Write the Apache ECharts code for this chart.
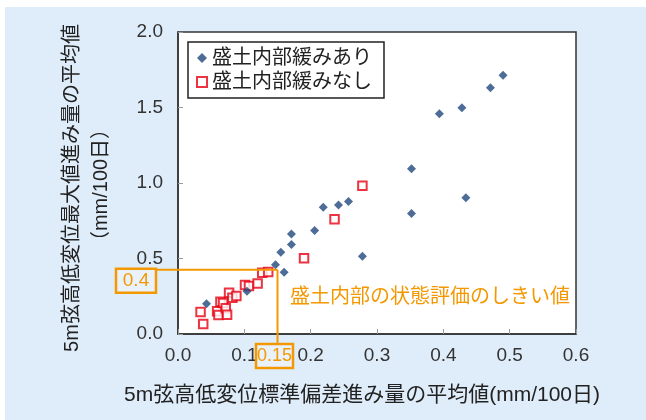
<!DOCTYPE html>
<html><head><meta charset="utf-8">
<script src="https://cdn.jsdelivr.net/npm/echarts@6/dist/echarts.min.js"></script>
<style>
html,body{margin:0;padding:0;background:#fff;}
#c{width:646px;height:420px;
background: linear-gradient(#fff,#fff) top left/100% 7px no-repeat, linear-gradient(#fff,#fff) top left/5px 100% no-repeat, #dfecf9;}
</style></head>
<body><div id="c"></div>
<script>
// ---- data ----
const seriesNames = ['盛土内部緩みあり', '盛土内部緩みなし'];
const looseX = [0.043,0.104,0.147,0.155,0.160,0.171,0.171,0.206,0.219,0.242,0.257,0.278,0.352,0.352,0.394,0.428,0.434,0.471,0.490];
const looseY = [0.200,0.283,0.458,0.541,0.409,0.592,0.663,0.685,0.840,0.855,0.877,0.515,1.094,0.798,1.459,1.498,0.902,1.631,1.713];
const tightX = [0.034,0.038,0.059,0.061,0.064,0.068,0.072,0.074,0.077,0.082,0.088,0.101,0.107,0.120,0.127,0.136,0.190,0.236,0.278];
const tightY = [0.146,0.066,0.150,0.126,0.214,0.205,0.170,0.128,0.274,0.240,0.252,0.325,0.318,0.335,0.405,0.410,0.502,0.760,0.981];
const threshX = 0.15, threshY = 0.425;
const threshXLabel = '0.15', threshYLabel = '0.4';
const noteText = '盛土内部の状態評価のしきい値';
const xName = '5m弦高低変位標準偏差進み量の平均値(mm/100日)';
const yName1 = '5m弦高低変位最大値進み量の平均値';
const yName2 = '（mm/100日）';

const FF = '"Liberation Sans", Arial, "Noto Sans CJK JP", sans-serif';
const ORANGE = '#f39800';
const zip = (a,b) => a.map((v,i)=>[v,b[i]]);

const chart = echarts.init(document.getElementById('c'), null, {renderer:'canvas'});
const option = {
  animation:false,
  textStyle:{fontFamily:FF},
  grid:{left:178, top:32, width:398, height:302, show:true, backgroundColor:'#fff', borderColor:'#333', borderWidth:1.5},
  xAxis:{type:'value', min:0, max:0.6, interval:0.1,
    axisLine:{lineStyle:{color:'#333', width:1.5}},
    axisTick:{inside:true, length:5, lineStyle:{color:'#999'}},
    splitLine:{show:false},
    axisLabel:{formatter:v=>v.toFixed(1), fontSize:19, color:'#333', margin:12, fontFamily:FF}},
  yAxis:{type:'value', min:0, max:2, interval:0.5,
    axisLine:{lineStyle:{color:'#333', width:1.5}},
    axisTick:{inside:true, length:5, lineStyle:{color:'#999'}},
    splitLine:{show:false},
    axisLabel:{formatter:v=>v.toFixed(1), fontSize:19, color:'#333', margin:15, fontFamily:FF}},
  legend:{orient:'vertical', left:188, top:42, padding:[6,12,6,8], itemGap:4,
    itemWidth:10, itemHeight:10, backgroundColor:'#fff', borderColor:'#222', borderWidth:1.5,
    textStyle:{fontSize:20, color:'#222', fontFamily:FF}, data:seriesNames},
  series:[
    {name:seriesNames[0], type:'scatter', symbol:'diamond', symbolSize:9,
     itemStyle:{color:'#21497e'}, data:zip(looseX, looseY), z:3},
    {name:seriesNames[1], type:'scatter', symbol:'rect', symbolSize:8.5,
     itemStyle:{color:'#fff', borderColor:'#e60012', borderWidth:2}, data:zip(tightX, tightY), z:2}
  ]
};
chart.setOption(option);

const p0 = chart.convertToPixel({gridIndex:0}, [0, 0]);
const pt = chart.convertToPixel({gridIndex:0}, [threshX, threshY]);
const yBoxW = 40, yBoxH = 24, xBoxW = 37, xBoxH = 24;
const yBoxRight = p0[0] - 22;
const xBoxTop = p0[1] + 10;
chart.setOption({graphic:[
  {type:'line', z:10, shape:{x1:yBoxRight, y1:pt[1], x2:pt[0], y2:pt[1]}, style:{stroke:ORANGE, lineWidth:2}},
  {type:'line', z:10, shape:{x1:pt[0], y1:pt[1], x2:pt[0], y2:xBoxTop}, style:{stroke:ORANGE, lineWidth:2}},
  {type:'rect', z:10, shape:{x:yBoxRight-yBoxW, y:pt[1]-1, width:yBoxW, height:yBoxH}, style:{fill:'#e9f2fb', stroke:ORANGE, lineWidth:2.5}},
  {type:'text', z:11, x:yBoxRight-yBoxW/2, y:pt[1]-1+yBoxH/2, style:{text:threshYLabel, fill:ORANGE, font:'19px '+FF, align:'center', verticalAlign:'middle'}},
  {type:'rect', z:10, shape:{x:pt[0]-xBoxW/2-3, y:xBoxTop, width:xBoxW, height:xBoxH}, style:{fill:'#e9f2fb', stroke:ORANGE, lineWidth:2.5}},
  {type:'text', z:11, x:pt[0]-3, y:xBoxTop+xBoxH/2, style:{text:threshXLabel, fill:ORANGE, font:'18px '+FF, align:'center', verticalAlign:'middle'}},
  {type:'text', z:11, x:290, y:297, style:{text:noteText, fill:ORANGE, font:'20px '+FF, align:'left', verticalAlign:'middle'}},
  {type:'text', z:11, x:362, y:395, style:{text:xName, fill:'#222', font:'21px '+FF, align:'center', verticalAlign:'middle'}},
  {type:'text', z:11, x:72, y:188, rotation:Math.PI/2, style:{text:yName1, fill:'#222', font:'20px '+FF, align:'center', verticalAlign:'middle'}},
  {type:'text', z:11, x:101, y:185, rotation:Math.PI/2, style:{text:yName2, fill:'#222', font:'20px '+FF, align:'center', verticalAlign:'middle'}}
]});
</script></body></html>
